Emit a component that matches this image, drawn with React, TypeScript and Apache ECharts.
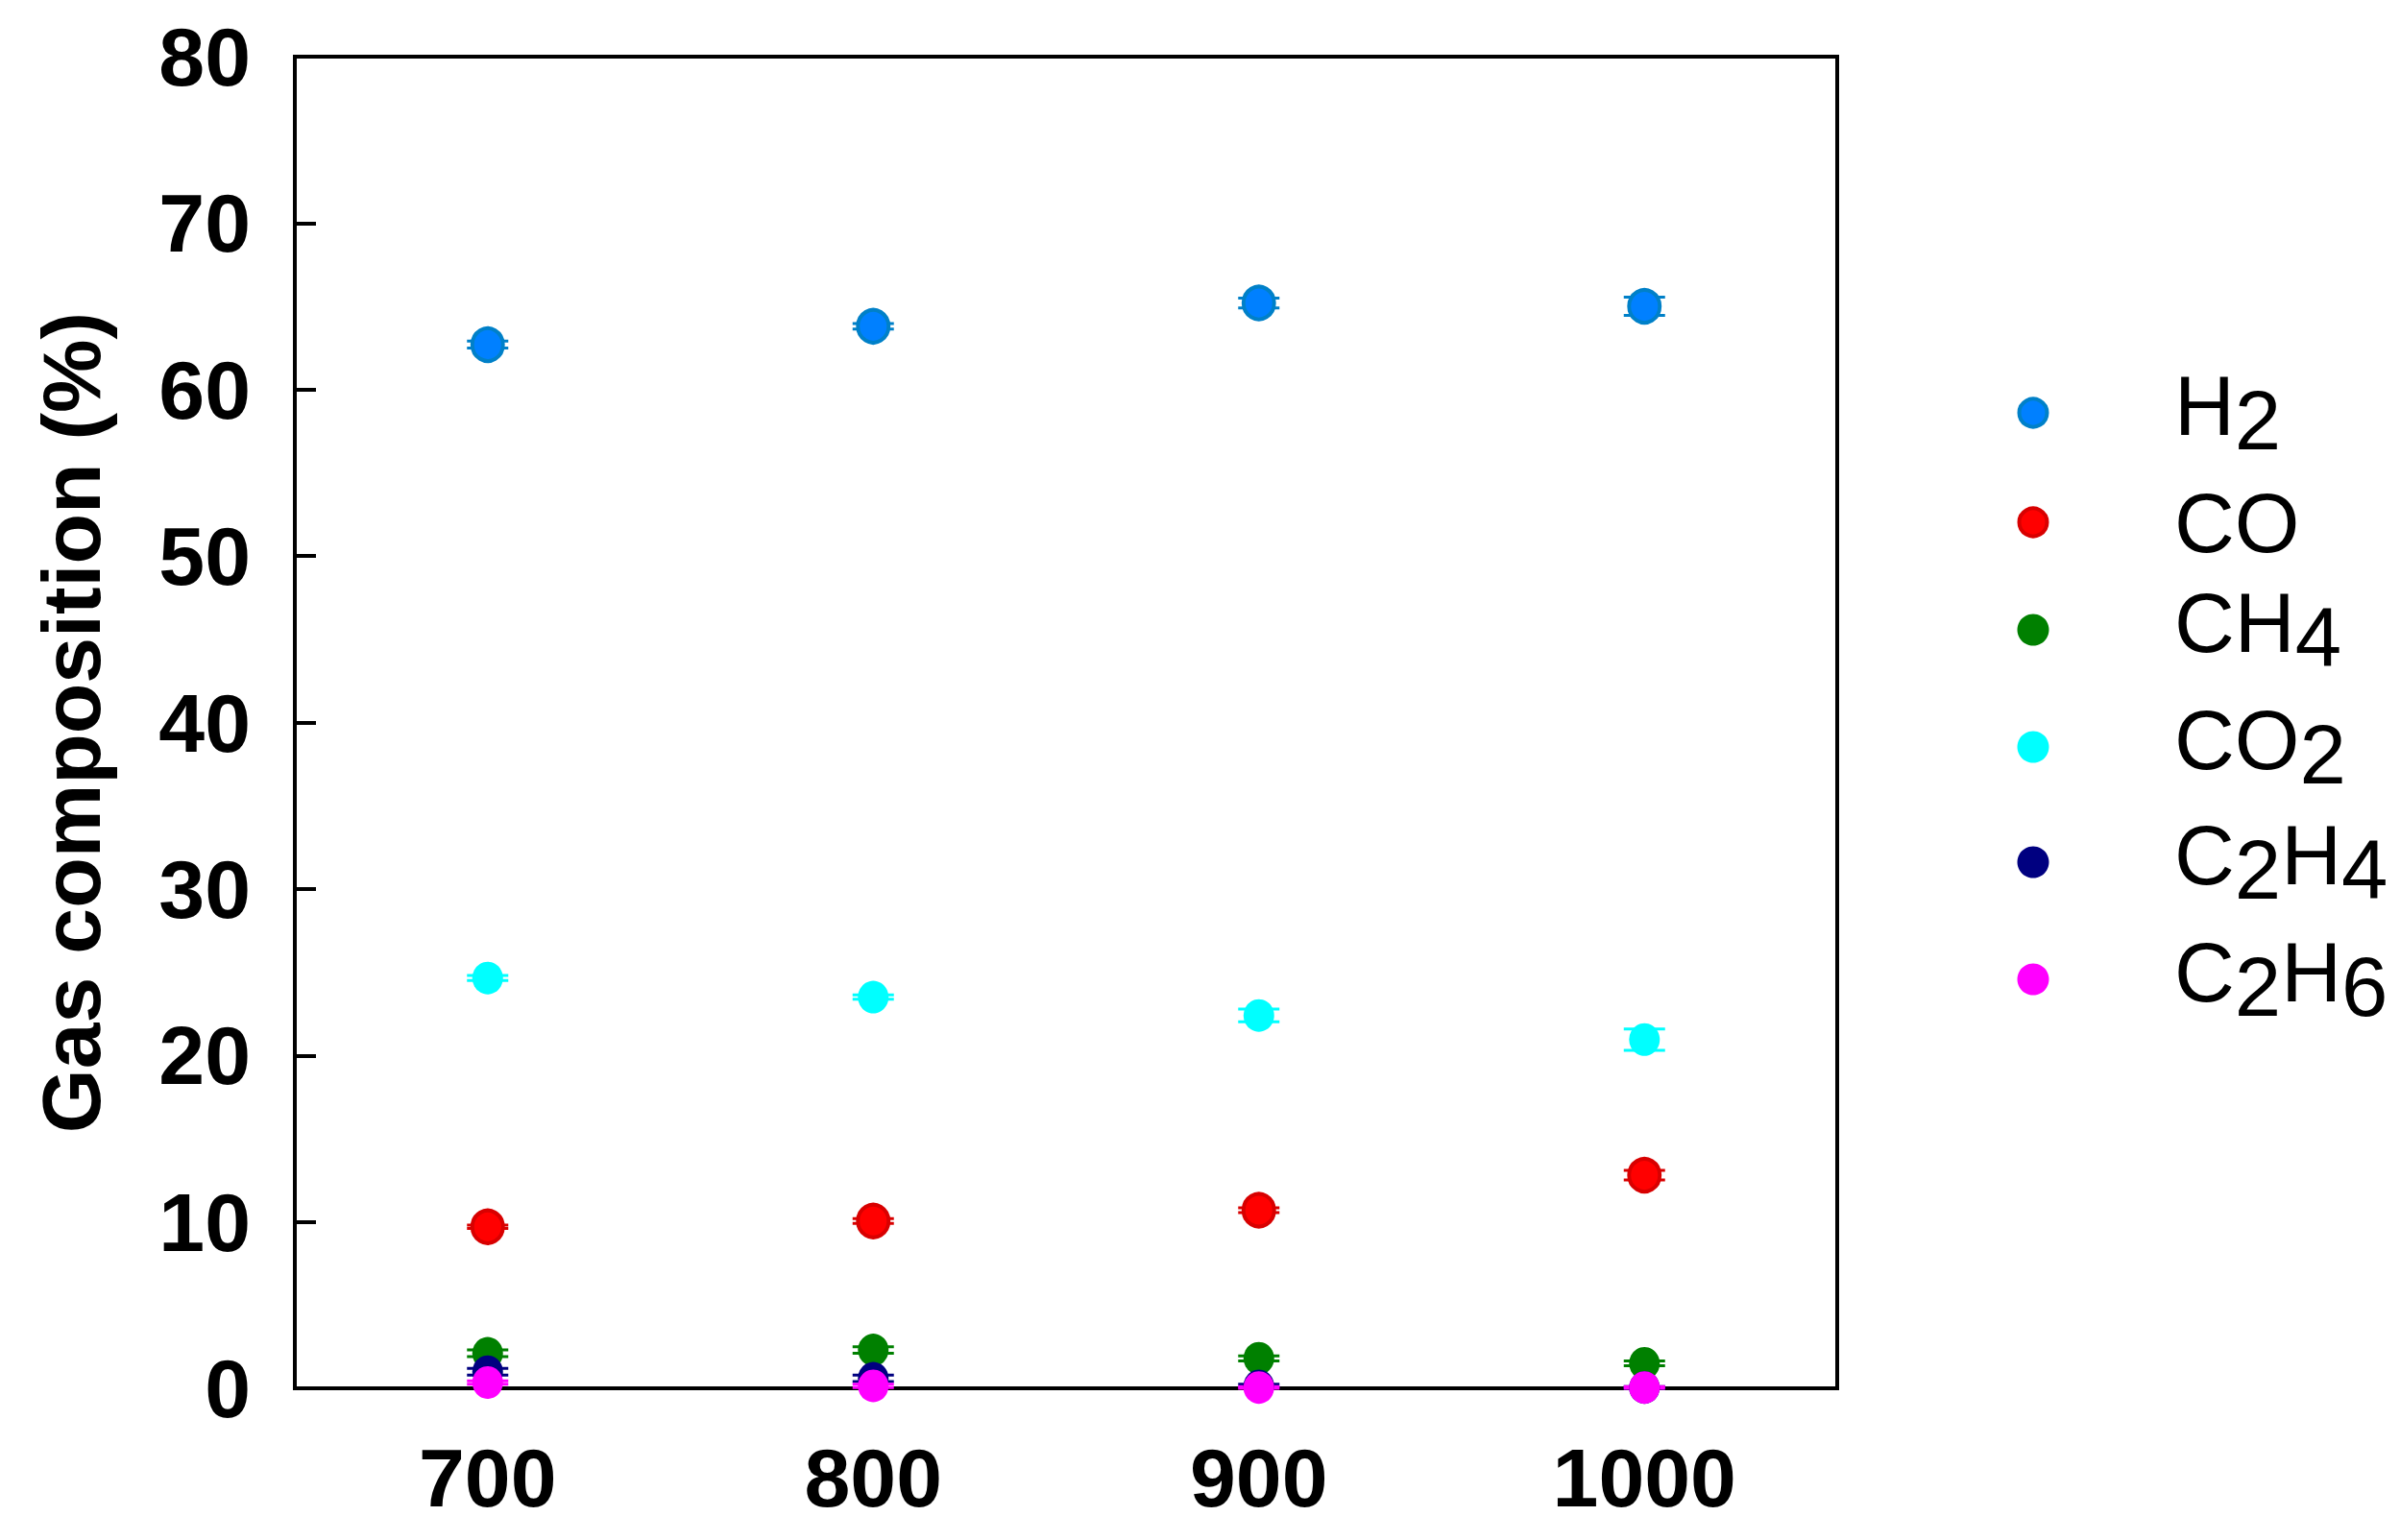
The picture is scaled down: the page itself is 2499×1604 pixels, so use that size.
import React, { useEffect, useRef } from "react";
import * as echarts from "echarts";

// ---- data ----
const temperatures = [700, 800, 900, 1000];
const xTickValues = [700, 800, 900, 1000];

const gasNames = ["H2", "CO", "CH4", "CO2", "C2H4", "C2H6"];
const gasLabelsRich = [
  "{n|H}{s|2}",
  "{c|CO}",
  "{n|CH}{s|4}",
  "{n|CO}{s|2}",
  "{n|C}{s|2}{n|H}{s|4}",
  "{n|C}{s|2}{n|H}{s|6}",
];

const h2Values = [62.7, 63.8, 65.2, 65.0];
const coValues = [9.7, 10.05, 10.7, 12.8];
const ch4Values = [2.1, 2.3, 1.8, 1.5];
const co2Values = [24.65, 23.5, 22.4, 20.95];
const c2h4Values = [1.0, 0.6, 0.15, 0.05];
const c2h6Values = [0.35, 0.15, 0.05, 0.05];

const h2Err = [0.21, 0.17, 0.3, 0.55];
const coErr = [0.1, 0.15, 0.15, 0.29];
const ch4Err = [0.2, 0.2, 0.15, 0.15];
const co2Err = [0.15, 0.13, 0.38, 0.64];
const c2h4Err = [0.2, 0.2, 0.1, 0.05];
const c2h6Err = [0.1, 0.1, 0.05, 0.05];

const allValues = [h2Values, coValues, ch4Values, co2Values, c2h4Values, c2h6Values];
const allErrors = [h2Err, coErr, ch4Err, co2Err, c2h4Err, c2h6Err];

// ---- styles ----
const fillColors = ["#0080FF", "#FF0000", "#008000", "#00FFFF", "#000080", "#FF00FF"];
const edgeColors = ["#0080C8", "#D80000", "#008000", "#00FFFF", "#000080", "#FF00FF"];
const edgeWidths = [4, 4, 0, 0, 0, 0];

const FONT = 'Arial, "Liberation Sans", sans-serif';
const LEGEND_X_ICON = 2117;
const LEGEND_X_TEXT = 2264;
const LEGEND_Y = [430, 544, 656, 778, 898, 1020];

export default function App() {
  const ref = useRef<HTMLDivElement>(null);

  useEffect(() => {
    if (!ref.current) return;
    const chart = echarts.init(ref.current, null, { renderer: "svg" });

    const series: any[] = [];
    gasNames.forEach((name, i) => {
      const vals = allValues[i];
      const errs = allErrors[i];
      series.push({
        type: "custom",
        name: name + " error",
        silent: true,
        z: 2,
        data: temperatures.map((t, k) => [t, vals[k], errs[k]]),
        renderItem: (params: any, api: any) => {
          const x = api.value(0);
          const y = api.value(1);
          const e = api.value(2);
          const top = api.coord([x, y + e]);
          const bot = api.coord([x, y - e]);
          const hw = 21.5;
          const st = { stroke: edgeColors[i], lineWidth: 3 };
          return {
            type: "group",
            children: [
              { type: "line", shape: { x1: top[0], y1: top[1], x2: bot[0], y2: bot[1] }, style: st },
              { type: "line", shape: { x1: top[0] - hw, y1: top[1], x2: top[0] + hw, y2: top[1] }, style: st },
              { type: "line", shape: { x1: bot[0] - hw, y1: bot[1], x2: bot[0] + hw, y2: bot[1] }, style: st },
            ],
          };
        },
      });
    });
    gasNames.forEach((name, i) => {
      series.push({
        type: "scatter",
        name,
        z: 3,
        symbol: "circle",
        symbolSize: [32, 34],
        data: temperatures.map((t, k) => [t, allValues[i][k]]),
        itemStyle: {
          color: fillColors[i],
          borderColor: edgeColors[i],
          borderWidth: edgeWidths[i],
          opacity: 1,
        },
      });
    });

    const richBase = {
      n: { fontSize: 87, fontFamily: FONT, lineHeight: 87, verticalAlign: "top", fill: "#000" },
      s: { fontSize: 87, fontFamily: FONT, lineHeight: 102.5, verticalAlign: "bottom", fill: "#000" },
      c: { fontSize: 87, fontFamily: FONT, lineHeight: 87, verticalAlign: "middle", fill: "#000" },
    };

    const legendElements: any[] = [];
    gasNames.forEach((name, i) => {
      legendElements.push({
        type: "circle",
        shape: { cx: LEGEND_X_ICON, cy: LEGEND_Y[i], r: edgeWidths[i] ? 14.5 : 16.5 },
        style: {
          fill: fillColors[i],
          stroke: edgeWidths[i] ? edgeColors[i] : null,
          lineWidth: edgeWidths[i],
        },
        z: 10,
      });
      legendElements.push({
        type: "text",
        x: LEGEND_X_TEXT,
        y: LEGEND_Y[i],
        z: 10,
        style: {
          text: gasLabelsRich[i],
          rich: richBase,
          fontSize: 87,
          fontFamily: FONT,
          fill: "#000",
          align: "left",
          verticalAlign: "middle",
        },
      });
    });

    const option: any = {
      animation: false,
      backgroundColor: "#ffffff",
      grid: {
        left: 307,
        top: 59,
        width: 1606,
        height: 1387,
        show: true,
        borderColor: "#000",
        borderWidth: 4,
        backgroundColor: "transparent",
      },
      xAxis: {
        type: "value",
        min: 650,
        max: 1050,
        axisLine: { show: true, onZero: false, lineStyle: { color: "#000", width: 4 } },
        axisTick: { show: false },
        splitLine: { show: false },
        axisLabel: {
          customValues: xTickValues,
          formatter: (v: number) => String(v),
          fontSize: 86,
          fontWeight: "bold",
          fontFamily: FONT,
          color: "#000",
          margin: 50,
        },
      },
      yAxis: {
        type: "value",
        min: 0,
        max: 80,
        interval: 10,
        name: "Gas composition (%)",
        nameLocation: "middle",
        nameGap: 190,
        nameTextStyle: { fontSize: 86, fontWeight: "bold", fontFamily: FONT, color: "#000" },
        axisLine: { show: true, lineStyle: { color: "#000", width: 4 } },
        axisTick: { show: true, inside: true, length: 22, lineStyle: { color: "#000", width: 4 } },
        splitLine: { show: false },
        axisLabel: {
          formatter: (v: number) => String(v),
          fontSize: 86,
          fontWeight: "bold",
          fontFamily: FONT,
          color: "#000",
          margin: 46,
        },
      },
      series,
      graphic: legendElements,
    };

    chart.setOption(option);
    return () => chart.dispose();
  }, []);

  return (
    <div
      ref={ref}
      style={{ position: "fixed", left: 0, top: 0, width: 2499, height: 1604, background: "#fff" }}
    />
  );
}
